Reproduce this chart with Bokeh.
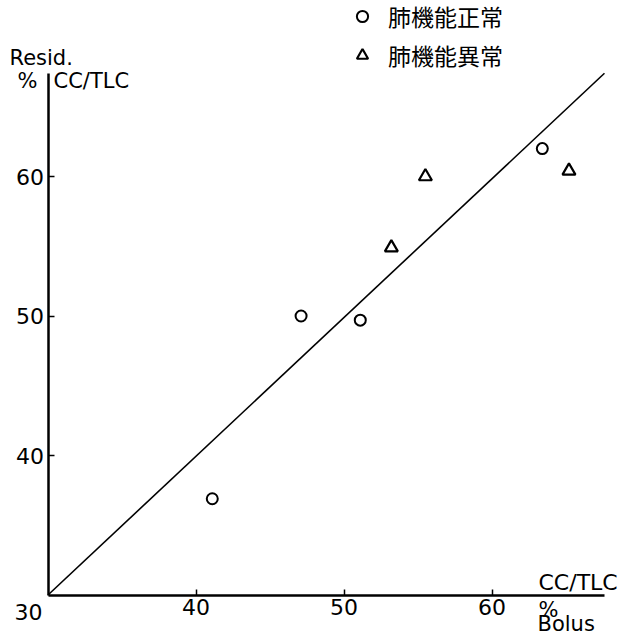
from bokeh.plotting import figure
from bokeh.models import Range1d, FixedTicker, Label, Legend, LegendItem
from bokeh.embed import file_html
from bokeh.resources import INLINE

# ---- data ----
normal_x = [41.1, 47.1, 51.1, 63.4]
normal_y = [36.9, 50.0, 49.7, 62.0]
abnormal_x = [53.2, 55.5, 65.2]
abnormal_y = [54.9, 60.0, 60.4]
fit_x = [30.0, 67.6]
fit_y = [30.0, 67.4]
tick_values = [40, 50, 60]
x_axis_bounds = (30, 67.6)
y_axis_bounds = (30, 67.4)
legend_labels = ["肺機能正常", "肺機能異常"]
origin_label = "30"

# ---- layout constants ----
W, H = 620, 636
SX, SY = 14.8, 13.95          # pixels per unit
OX, OY = 47.5, 594.5          # pixel position of the origin (30, 30)
FONT = "DejaVu Sans"
CJK = "Noto Sans CJK JP"


def dx(px):
    return 30 + (px - OX) / SX


def dy(py):
    return 30 + (OY - py) / SY


p = figure(frame_width=W, frame_height=H,
           min_border_left=0, min_border_top=0,
           min_border_right=0, min_border_bottom=0,
           x_range=Range1d(dx(0), dx(W)), y_range=Range1d(dy(H), dy(0)),
           output_backend="svg", toolbar_location=None)
p.outline_line_color = None
p.xgrid.visible = False
p.ygrid.visible = False
p.background_fill_color = "white"
p.border_fill_color = "white"

p.xaxis[0].bounds = x_axis_bounds
p.yaxis[0].bounds = y_axis_bounds
for ax in (p.xaxis[0], p.yaxis[0]):
    ax.fixed_location = 30
    ax.ticker = FixedTicker(ticks=tick_values, minor_ticks=[])
    ax.axis_line_width = 2.5
    ax.axis_line_color = "black"
    ax.major_tick_in = 6
    ax.major_tick_out = 0
    ax.major_tick_line_width = 1.5
    ax.major_tick_line_color = "black"
    ax.minor_tick_line_color = None
    ax.major_label_text_font = FONT
    ax.major_label_text_font_size = "22px"
    ax.major_label_text_color = "black"
    ax.major_label_standoff = 4

# fitted line
p.line(fit_x, fit_y, line_color="black", line_width=1.6)

# points
r_norm = p.scatter(normal_x, normal_y, marker="circle", size=11,
                   fill_color=None, line_color="black", line_width=2)
r_abn = p.scatter(abnormal_x, abnormal_y, marker="triangle", size=13,
                  fill_color=None, line_color="black", line_width=2.2)

legend = Legend(items=[LegendItem(label=legend_labels[0], renderers=[r_norm]),
                       LegendItem(label=legend_labels[1], renderers=[r_abn])],
                location=(348, H - 72), orientation="vertical",
                glyph_width=28, glyph_height=28, spacing=5,
                padding=0, margin=0, label_standoff=12,
                label_text_font=CJK, label_text_font_size="23px",
                label_text_color="black", label_height=28,
                border_line_color=None, background_fill_alpha=0)
p.add_layout(legend, "center")


def lab(text, px, py, align="left", size="21px"):
    p.add_layout(Label(x=dx(px), y=dy(py), text=text, text_font=FONT,
                       text_font_size=size, text_color="black",
                       text_align=align, text_baseline="middle"))


lab("Resid.", 9, 57)
lab("%", 17, 80)
lab("CC/TLC", 53, 80)
lab(origin_label, 28, 611, "center", "22px")
lab("CC/TLC", 538, 582, size="22px")
lab("%", 538, 609, size="21px")
lab("Bolus", 537, 623, size="21px")

open("out.html", "w").write(file_html(p, INLINE))
